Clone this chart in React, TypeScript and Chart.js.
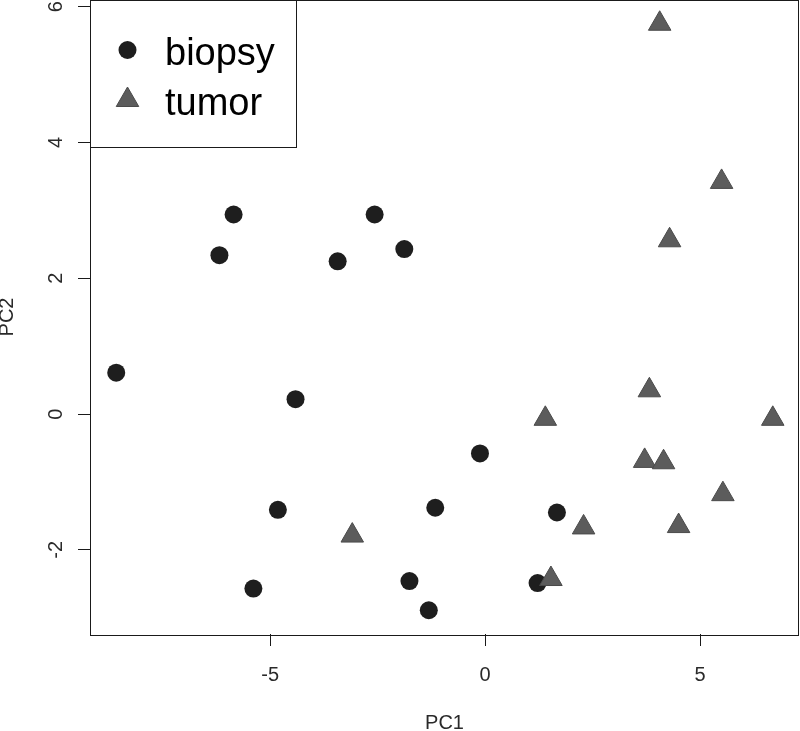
import React, { useEffect, useRef } from "react";
import { Chart, registerables } from "chart.js";

Chart.register(...registerables);

// ---- data ----
const seriesNames = ["biopsy", "tumor"];

const biopsyX = [-8.58, -6.18, -5.85, -4.41, -4.82, -5.39, -3.43, -2.57, -1.88, -1.16, -1.76, -1.31, -0.12, 1.67, 1.22];
const biopsyY = [0.61, 2.34, 2.94, 0.22, -1.41, -2.57, 2.25, 2.94, 2.43, -1.38, -2.46, -2.89, -0.58, -1.45, -2.49];

const tumorX = [4.06, 5.5, 4.29, 3.82, 1.4, 6.69, 3.71, 4.15, 5.53, 4.5, 2.29, -3.09, 1.53];
const tumorY = [5.75, 3.42, 2.56, 0.35, -0.07, -0.07, -0.69, -0.71, -1.18, -1.65, -1.67, -1.79, -2.43];

const xTickValues = [-5, 0, 5];
const yTickValues = [-2, 0, 2, 4, 6];

const xTitle = "PC1";
const yTitle = "PC2";

const X_MIN = -9.19;
const X_MAX = 7.3;
const Y_MIN = -3.24;
const Y_MAX = 6.1;

const FONT = "'Liberation Sans', Arial, Helvetica, sans-serif";
const AXIS_TEXT = "#2a2a2a";
const LINE = "#1a1a1a";

const boxPlugin = {
  id: "rBox",
  afterDatasetsDraw(chart: any) {
    const { ctx, chartArea: a } = chart;
    ctx.save();
    ctx.strokeStyle = LINE;
    ctx.lineWidth = 1;
    ctx.strokeRect(a.left + 0.5, a.top + 0.5, a.right - a.left - 1, a.bottom - a.top + 1);
    ctx.restore();
  },
};

const legendPlugin = {
  id: "rLegend",
  afterDraw(chart: any) {
    const { ctx, chartArea: a } = chart;
    const ds = chart.data.datasets;
    const x0 = a.left + 0.5;
    const y0 = a.top + 0.5;
    const w = 206;
    const h = 147;
    ctx.save();
    ctx.fillStyle = "#ffffff";
    ctx.fillRect(x0, y0, w, h);
    ctx.strokeStyle = LINE;
    ctx.lineWidth = 1;
    ctx.strokeRect(x0, y0, w, h);
    ds.forEach((d: any, i: number) => {
      const cx = a.left + 37.5;
      const cy = a.top + 50 + i * 50;
      ctx.fillStyle = d.backgroundColor;
      ctx.strokeStyle = d.borderColor;
      ctx.lineWidth = d.borderWidth;
      ctx.beginPath();
      if (d.pointStyle === "triangle") {
        const r = d.pointRadius;
        let rad = 0;
        ctx.moveTo(cx + Math.sin(rad) * r, cy - Math.cos(rad) * r);
        rad += (2 * Math.PI) / 3;
        ctx.lineTo(cx + Math.sin(rad) * r, cy - Math.cos(rad) * r);
        rad += (2 * Math.PI) / 3;
        ctx.lineTo(cx + Math.sin(rad) * r, cy - Math.cos(rad) * r);
        ctx.closePath();
      } else {
        ctx.arc(cx, cy, d.pointRadius, 0, Math.PI * 2);
      }
      ctx.fill();
      if (d.borderWidth > 0) ctx.stroke();
      ctx.fillStyle = "#000000";
      ctx.font = `38px ${FONT}`;
      ctx.textAlign = "left";
      ctx.textBaseline = "alphabetic";
      ctx.fillText(d.label, a.left + 75, a.top + 65 + i * 50);
    });
    ctx.restore();
  },
};

export default function App() {
  const canvasRef = useRef<HTMLCanvasElement | null>(null);

  useEffect(() => {
    const canvas = canvasRef.current;
    if (!canvas) return;
    const chart = new Chart(canvas, {
      type: "scatter",
      data: {
        datasets: [
          {
            label: seriesNames[0],
            data: biopsyX.map((x, i) => ({ x, y: biopsyY[i] })),
            pointStyle: "circle",
            pointRadius: 9,
            backgroundColor: "#1e1e1e",
            borderColor: "#1e1e1e",
            borderWidth: 0,
            order: 1,
            clip: false,
          } as any,
          {
            label: seriesNames[1],
            data: tumorX.map((x, i) => ({ x, y: tumorY[i] })),
            pointStyle: "triangle",
            pointRadius: 13,
            backgroundColor: "#5c5c5c",
            borderColor: "#4a4a4a",
            borderWidth: 1,
            order: 0,
            clip: false,
          } as any,
        ],
      },
      options: {
        responsive: false,
        devicePixelRatio: 1,
        animation: false,
        events: [],
        layout: { padding: { left: 0, right: 1, top: 0, bottom: 0 }, autoPadding: false } as any,
        plugins: {
          legend: { display: false },
          tooltip: { enabled: false },
        },
        scales: {
          x: {
            type: "linear",
            min: X_MIN,
            max: X_MAX,
            afterBuildTicks: (s: any) => {
              s.ticks = xTickValues.map((v) => ({ value: v }));
            },
            afterFit: (s: any) => {
              s.height = 97;
              s.paddingLeft = 0;
              s.paddingRight = 0;
            },
            grid: { drawOnChartArea: false, drawTicks: true, tickLength: 12, color: LINE, tickWidth: 1 },
            border: { display: false },
            ticks: {
              padding: 17,
              autoSkip: false,
              maxRotation: 0,
              minRotation: 0,
              color: AXIS_TEXT,
              font: { family: FONT, size: 20 },
            },
            title: {
              display: true,
              text: xTitle,
              color: AXIS_TEXT,
              font: { family: FONT, size: 20, lineHeight: 0.75 },
              padding: 0,
            },
          },
          y: {
            type: "linear",
            min: Y_MIN,
            max: Y_MAX,
            afterBuildTicks: (s: any) => {
              s.ticks = yTickValues.map((v) => ({ value: v }));
            },
            afterFit: (s: any) => {
              s.width = 90;
              s.paddingTop = 0;
              s.paddingBottom = 0;
            },
            grid: { drawOnChartArea: false, drawTicks: true, tickLength: 12, color: LINE, tickWidth: 1 },
            border: { display: false },
            ticks: {
              padding: 13,
              autoSkip: false,
              minRotation: 90,
              maxRotation: 90,
              crossAlign: "center",
              color: AXIS_TEXT,
              font: { family: FONT, size: 20 },
            },
            title: {
              display: true,
              text: yTitle,
              color: AXIS_TEXT,
              font: { family: FONT, size: 20, lineHeight: 0.75 },
              padding: 0,
            },
          },
        },
      } as any,
      plugins: [boxPlugin, legendPlugin],
    });
    return () => chart.destroy();
  }, []);

  return (
    <div style={{ position: "absolute", left: 0, top: 0, width: 800, height: 731, background: "#fff" }}>
      <canvas ref={canvasRef} width={800} height={731} style={{ display: "block" }} />
    </div>
  );
}
